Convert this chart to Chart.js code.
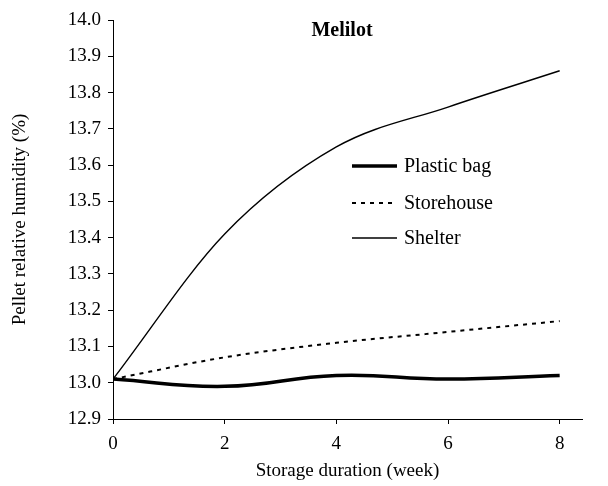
<!DOCTYPE html>
<html>
<head>
<meta charset="utf-8">
<script src="https://cdn.jsdelivr.net/npm/chart.js@4.4.1/dist/chart.umd.min.js"></script>
<style>
  html, body { margin: 0; padding: 0; background: #fff; }
  #wrap { width: 608px; height: 486px; }
</style>
</head>
<body>
<div id="wrap"><canvas id="mycanvas" width="608" height="486"></canvas></div>
<script>
var weeks = [0, 2, 4, 6, 8];
var plasticBag = [13.01, 12.99, 13.02, 13.01, 13.02];
var storehouse = [13.01, 13.07, 13.11, 13.14, 13.17];
var shelter = [13.01, 13.41, 13.65, 13.76, 13.86];
var seriesNames = ['Plastic bag', 'Storehouse', 'Shelter'];
var chartTitle = 'Melilot';

function toPoints(vals) {
  var pts = [];
  for (var i in vals) pts.push({ x: weeks[i], y: vals[i] });
  return pts;
}

var serif = '"Liberation Serif", "Times New Roman", serif';

// legend + title drawn inside the plot area
var insideText = {
  id: 'insideText',
  afterDraw: function(chart) {
    var ctx = chart.ctx;
    ctx.save();
    ctx.fillStyle = '#000';
    ctx.font = 'bold 20px ' + serif;
    ctx.textAlign = 'center';
    ctx.textBaseline = 'middle';
    ctx.fillText(chartTitle, 342, 31);

    var rows = [166, 203, 238];
    ctx.textAlign = 'left';
    ctx.font = '20px ' + serif;
    chart.data.datasets.forEach(function(ds, i) {
      var y = rows[i];
      ctx.beginPath();
      ctx.lineWidth = ds.borderWidth;
      ctx.setLineDash(ds.borderDash || []);
      ctx.strokeStyle = ds.borderColor;
      ctx.moveTo(352, y);
      ctx.lineTo(397, y);
      ctx.stroke();
      ctx.setLineDash([]);
      ctx.fillText(ds.label, 404, y + 1);
    });
    ctx.restore();
  }
};

var chartdata = {
  datasets: [
    {
      label: seriesNames[0],
      data: toPoints(plasticBag),
      borderColor: '#000',
      borderWidth: 3.5,
      pointRadius: 0,
      tension: 0.45,
      fill: false
    },
    {
      label: seriesNames[1],
      data: toPoints(storehouse),
      borderColor: '#000',
      borderWidth: 2,
      borderDash: [4, 5],
      pointRadius: 0,
      cubicInterpolationMode: 'monotone',
      fill: false
    },
    {
      label: seriesNames[2],
      data: toPoints(shelter),
      borderColor: '#000',
      borderWidth: 1.4,
      pointRadius: 0,
      cubicInterpolationMode: 'monotone',
      fill: false
    }
  ]
};

var ctx = document.getElementById('mycanvas');
var lineGraph = new Chart(ctx, {
  type: 'line',
  data: chartdata,
  plugins: [insideText],
  options: {
    responsive: false,
    animation: false,
    layout: { padding: { top: 20, right: 26, left: 0, bottom: 0 } },
    plugins: {
      legend: { display: false },
      tooltip: { enabled: false }
    },
    scales: {
      x: {
        type: 'linear',
        min: 0,
        max: 8.4,
        afterFit: function(scale) { scale.height = 67; },
        ticks: {
          stepSize: 2,
          includeBounds: false,
          color: '#000',
          padding: 9,
          font: { family: serif, size: 19 },
          callback: function(v) { return v; }
        },
        grid: { drawOnChartArea: false, drawTicks: true, tickLength: 5, color: '#000', lineWidth: 1 },
        border: { display: true, color: '#000', width: 1 },
        title: {
          display: true,
          text: 'Storage duration (week)',
          color: '#000',
          font: { family: serif, size: 19 },
          padding: { top: 0 }
        }
      },
      y: {
        min: 12.9,
        max: 14.0,
        afterFit: function(scale) { scale.width = 113; },
        ticks: {
          stepSize: 0.1,
          color: '#000',
          padding: 7,
          font: { family: serif, size: 19 },
          callback: function(v) { return v.toFixed(1); }
        },
        grid: { drawOnChartArea: false, drawTicks: true, tickLength: 5, color: '#000', lineWidth: 1 },
        border: { display: true, color: '#000', width: 1 },
        title: {
          display: true,
          text: 'Pellet relative humidity (%)',
          color: '#000',
          font: { family: serif, size: 19 },
          padding: { top: 9, bottom: 0 }
        }
      }
    }
  }
});
</script>
</body>
</html>
